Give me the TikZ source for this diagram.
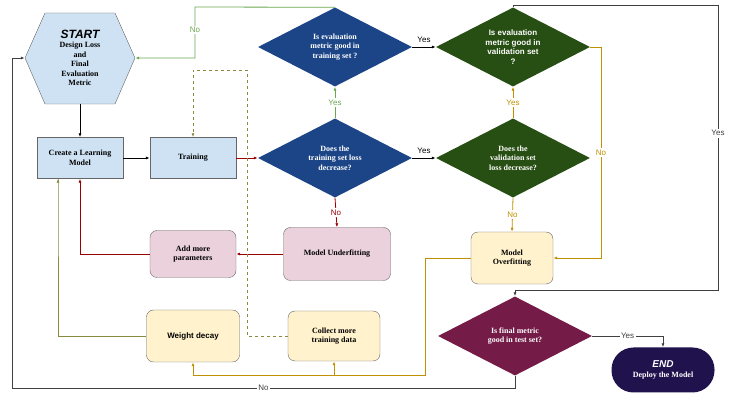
\documentclass[tikz,border=0pt]{standalone}
\usepackage{fontspec}
\setmainfont{Liberation Serif}
\newfontfamily\lsans{Liberation Sans}
\usetikzlibrary{shapes.geometric,arrows.meta}
\definecolor{lblue}{HTML}{CFE2F3}
\definecolor{lpink}{HTML}{EAD1DC}
\definecolor{lyel}{HTML}{FFF2CC}
\definecolor{dblue}{HTML}{1C4587}
\definecolor{dgreen}{HTML}{274E13}
\definecolor{dmar}{HTML}{741B47}
\definecolor{dnavy}{HTML}{20124D}
\definecolor{cgold}{HTML}{BF9000}
\definecolor{cred}{HTML}{990000}
\definecolor{cgreen}{HTML}{6AA84F}
\definecolor{colive}{HTML}{8A8A3F}
\begin{document}
\begin{tikzpicture}[x=1pt,y=-1pt,
  every node/.style={font=\bfseries\fontsize{8}{9.5}\selectfont, align=center},
  box/.style={rectangle, draw=black!60, fill=lblue, minimum width=86pt, minimum height=41pt},
  rbox/.style={rectangle, rounded corners=7pt, draw=black!60, minimum height=50pt},
  dia/.style={diamond, aspect=1.95, text=white, inner sep=0pt, minimum width=154pt, minimum height=79pt, draw=none},
  lab/.style={font=\lsans\fontsize{8}{9}\selectfont, fill=white, inner sep=1.5pt},
  arr/.style={-{Latex[length=4pt,width=3pt]}, line width=0.8pt}
]
\useasboundingbox (0,0) rectangle (740,411);
% START hexagon
\fill[lblue] (45,13) -- (115,13) -- (135,58) -- (115,104) -- (45,104) -- (25,58) -- cycle;
\draw[black!60] (45,13) -- (115,13) -- (135,58) -- (115,104) -- (45,104) -- (25,58) -- cycle;
\node[minimum width=110pt, minimum height=91pt, inner sep=0pt] (start) at (80,58) {{\lsans\itshape\fontsize{12}{13}\selectfont START}\\Design Loss\\and\\Final\\Evaluation\\Metric};
\node[box] (create) at (80,158) {Create a Learning\\Model};
\node[box] (train) at (193,158) {Training};
\node[dia, fill=dblue] (d1) at (335,158) {Does the\\training set loss\\decrease?};
\node[dia, fill=dblue] (d2) at (335,47) {Is evaluation\\metric good in\\training set ?};
\node[dia, fill=dgreen, font=\lsans\bfseries\fontsize{8}{9.5}\selectfont] (d3) at (513,47) {Is evaluation\\metric good in\\validation set\\?};
\node[dia, fill=dgreen] (d4) at (513,158) {Does the\\validation set\\loss decrease?};
\node[rbox, fill=lpink, minimum width=107pt, minimum height=53pt] (under) at (337,254) {Model Underfitting};
\node[rbox, fill=lpink, minimum width=86pt, minimum height=47pt] (addp) at (193,254) {Add more\\parameters};
\node[rbox, fill=lyel, minimum width=93pt, minimum height=52pt, font=\lsans\bfseries\fontsize{8}{9.5}\selectfont] (wd) at (193,336) {Weight decay};
\node[rbox, fill=lyel, minimum width=92pt] (coll) at (334,336) {Collect more\\training data};
\node[rbox, fill=lyel, minimum width=82pt, minimum height=52pt] (over) at (512,258) {Model\\Overfitting};
\node[dia, fill=dmar] (fin) at (515,336) {Is final metric\\good in test set?};
\node[rectangle, rounded corners=22pt, fill=dnavy, text=white, minimum width=103pt, minimum height=45pt] (end) at (663,370) {{\lsans\itshape\fontsize{10}{11}\selectfont END}\\Deploy the Model};
% connectors
\draw[arr] (start.south) -- (create.north);
\draw[arr] (create) -- (train);
\draw[arr, cred] (train) -- (d1);
\draw[arr, cgreen] (d1.north) -- node[lab]{Yes} (d2.south);
\draw[arr, cgreen] (d2.north) -- (195,7) -- node[lab, pos=0.45]{No} (195,58) -- (start.east);
\draw[arr] (d2.east) -- node[lab, above=3pt, fill=none]{Yes} (d3.west);
\draw[arr] (d1.east) -- node[lab, above=3pt, fill=none]{Yes} (d4.west);
\draw[arr, cgold] (d4.north) -- node[lab]{Yes} (d3.south);
\draw[arr, cgold] (d3.east) -- (601,47) -- node[lab]{No} (601,258) -- (over.east);
\draw[arr, black!75] (d3.north) -- (513,5) -- (718,5) -- node[lab, pos=0.45]{Yes} (718,290) -- (515,290) -- (fin.north);
\draw[arr, cgold] (d4.south) -- node[lab]{No} (over.north);
\draw[arr, cred] (d1.south) -- node[lab]{No} (under.north);
\draw[arr, cred] (under.west) -- (addp.east);
\draw[arr, cred] (addp.west) -- (80,254) -- (create.south);
\draw[arr, colive] (wd.west) -- (58,336) -- (58,179) -- (create.south -| 58,0);
\draw[arr, colive, dashed] (coll.west) -- (247,336) -- (247,70) -- (193,70) -- (train.north);
\draw[arr, cgold] (over.west) -- (425,258) -- (425,375) -- (193,375) -- (wd.south);
\draw[arr, cgold] (334,375) -- (coll.south);
\draw[arr, black!75] (fin.south) -- (515,388) -- node[lab]{No} (12,388) -- (12,58) -- (start.west);
\draw[arr, black!75] (fin.east) -- node[lab]{Yes} (663,336) -- (end.north);
\end{tikzpicture}
\end{document}
